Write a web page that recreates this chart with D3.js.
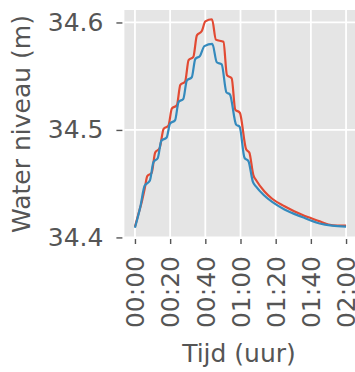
<!DOCTYPE html>
<html>
<head>
<meta charset="utf-8">
<script src="https://cdn.jsdelivr.net/npm/d3@7/dist/d3.min.js"></script>
<style>
  body { margin: 0; background: #fff; }
  svg { display: block; }
  svg text { font-family: "DejaVu Sans", sans-serif; }
</style>
</head>
<body>
<svg id="chart" width="355" height="372"></svg>
<script>
// time in minutes, water level in metres
var redTime = [0, 2, 4, 5.5, 7, 9.5, 11.5, 14, 16.3, 19, 21, 23.8, 25.8, 28.5, 30.5, 33.2,
  35.2, 38, 40, 43.8, 46, 50.3, 52.3, 55, 57, 59.6, 63.2, 65, 67.3, 69, 73.5, 78, 85, 95,
  105, 110, 115, 120];
var redLevel = [34.410, 34.422, 34.434, 34.445, 34.457, 34.460, 34.479, 34.483, 34.501, 34.504,
  34.520, 34.523, 34.542, 34.545, 34.565, 34.568, 34.588, 34.592, 34.601, 34.603, 34.584,
  34.582, 34.551, 34.548, 34.519, 34.516, 34.482, 34.479, 34.458, 34.453, 34.443, 34.436,
  34.429, 34.421, 34.415, 34.412, 34.411, 34.411];

var blueTime = [0, 3, 5.5, 8.5, 10.5, 13, 15, 18, 20, 22.8, 24.8, 27.5, 29.5, 32.3, 34.3, 37,
  39.5, 44, 46.5, 49.3, 52, 54, 57.5, 59.5, 62.3, 64.5, 67, 69, 73.5, 78, 85, 95, 105, 112, 120];
var blueLevel = [34.409, 34.428, 34.448, 34.453, 34.470, 34.474, 34.490, 34.493, 34.506, 34.509,
  34.526, 34.529, 34.546, 34.549, 34.566, 34.569, 34.578, 34.580, 34.563, 34.561, 34.535,
  34.533, 34.505, 34.503, 34.474, 34.471, 34.452, 34.447, 34.439, 34.433, 34.426, 34.419,
  34.413, 34.411, 34.410];

var xTicks = [0, 20, 40, 60, 80, 100, 120];
var xTickLabels = ["00:00", "00:20", "00:40", "01:00", "01:20", "01:40", "02:00"];
var yTicks = [34.4, 34.5, 34.6];

var svg = d3.select("#chart");
var plotLeft = 124.4, plotRight = 356.6, plotTop = 10, plotBottom = 237;

var x = d3.scaleLinear().domain([-6, 126]).range([plotLeft, plotRight]);
var y = d3.scaleLinear().domain([34.4004, 34.6116]).range([plotBottom, plotTop]);

svg.append("rect")
  .attr("x", plotLeft).attr("y", plotTop)
  .attr("width", plotRight - plotLeft).attr("height", plotBottom - plotTop)
  .attr("fill", "#E5E5E5");

// grid
svg.append("g").selectAll("line").data(xTicks).join("line")
  .attr("x1", function (d) { return x(d); }).attr("x2", function (d) { return x(d); })
  .attr("y1", plotTop).attr("y2", plotBottom)
  .attr("stroke", "#fff").attr("stroke-width", 1.8);
svg.append("g").selectAll("line").data(yTicks).join("line")
  .attr("x1", plotLeft).attr("x2", plotRight)
  .attr("y1", function (d) { return y(d); }).attr("y2", function (d) { return y(d); })
  .attr("stroke", "#fff").attr("stroke-width", 1.8);

// axes
var xAxis = svg.append("g")
  .attr("transform", "translate(0," + (plotBottom + 2) + ")")
  .call(d3.axisBottom(x).tickValues(xTicks).tickSize(5).tickPadding(0)
    .tickFormat(function (d, i) { return xTickLabels[i]; }));
xAxis.select(".domain").remove();
xAxis.selectAll(".tick line").attr("stroke", "#555").attr("stroke-width", 1.4);
xAxis.selectAll(".tick text")
  .attr("fill", "#555").attr("font-size", 25)
  .attr("transform", "rotate(-90)")
  .attr("text-anchor", "end")
  .attr("x", -17).attr("y", 0).attr("dy", "0.35em");

var yAxis = svg.append("g")
  .attr("transform", "translate(" + (plotLeft - 2) + ",0)")
  .call(d3.axisLeft(y).tickValues(yTicks).tickSize(6).tickPadding(13)
    .tickFormat(d3.format(".1f")));
yAxis.select(".domain").remove();
yAxis.selectAll(".tick line").attr("stroke", "#555").attr("stroke-width", 1.4);
yAxis.selectAll(".tick text").attr("fill", "#555").attr("font-size", 25);

// lines
var line = d3.line()
  .x(function (d) { return x(d[0]); })
  .y(function (d) { return y(d[1]); })
  .curve(d3.curveMonotoneX);

svg.append("path")
  .datum(d3.zip(redTime, redLevel))
  .attr("d", line)
  .attr("fill", "none").attr("stroke", "#E24A33").attr("stroke-width", 2.2);
svg.append("path")
  .datum(d3.zip(blueTime, blueLevel))
  .attr("d", line)
  .attr("fill", "none").attr("stroke", "#348ABD").attr("stroke-width", 2.2);

// titles
svg.append("text")
  .attr("x", 239).attr("y", 362)
  .attr("text-anchor", "middle")
  .attr("fill", "#555").attr("font-size", 25)
  .text("Tijd (uur)");
svg.append("text")
  .attr("transform", "translate(30,124) rotate(-90)")
  .attr("text-anchor", "middle")
  .attr("fill", "#555").attr("font-size", 25)
  .text("Water niveau (m)");
</script>
</body>
</html>
